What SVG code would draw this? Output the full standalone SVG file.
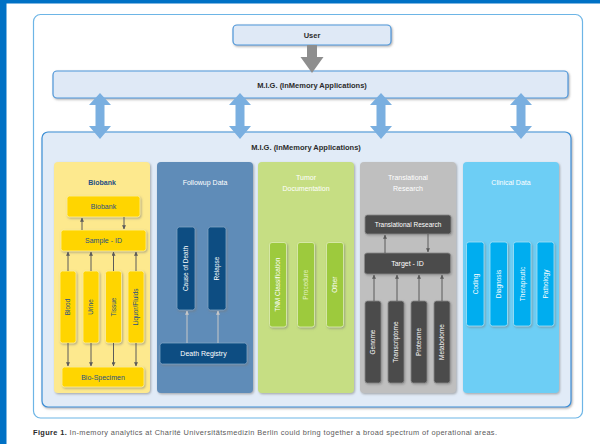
<svg xmlns="http://www.w3.org/2000/svg" width="600" height="444" viewBox="0 0 600 444">
<defs>
  <filter id="sh" x="-10%" y="-10%" width="130%" height="130%">
    <feDropShadow dx="1" dy="1.2" stdDeviation="0.8" flood-color="#7a7a7a" flood-opacity="0.6"/>
  </filter>
  <marker id="ah" viewBox="0 0 6 6" refX="5.5" refY="3" markerWidth="4" markerHeight="4" orient="auto-start-reverse">
    <path d="M0,0 L6,3 L0,6 z" fill="#5a5a5a"/>
  </marker>
  <marker id="ahl" viewBox="0 0 6 6" refX="5.5" refY="3" markerWidth="4" markerHeight="4" orient="auto-start-reverse">
    <path d="M0,0 L6,3 L0,6 z" fill="#c8c8c8"/>
  </marker>
</defs>
<style>
  text { font-family: "Liberation Sans", Arial, sans-serif; }
  .t { font-size: 7px; text-anchor: middle; }
  .tb { font-size: 7.5px; text-anchor: middle; fill: #2b2b2b; font-weight: bold; }
  .w { fill: #ffffff; }
  .db { fill: #1f4f85; }
  .v { font-size: 6.5px; text-anchor: middle; }
  .bar { fill: #dfe9f6; stroke: #4d97d9; stroke-width: 1.2; }
  .pnl { filter: url(#sh); }
  .yb { fill: #ffd500; stroke: #fff0a0; stroke-width: 0.8; filter: url(#sh); }
  .fb { fill: #0b4d82; stroke: #7fa3c6; stroke-width: 0.8; filter: url(#sh); }
  .gb { fill: #9dca3c; stroke: #e0efb8; stroke-width: 0.8; filter: url(#sh); }
  .kb { fill: #4b4b4b; stroke: #8a8a8a; stroke-width: 0.8; filter: url(#sh); }
  .cb { fill: #00adef; stroke: #a5e3fa; stroke-width: 0.8; filter: url(#sh); }
  .ln { stroke: #5a5a5a; stroke-width: 1; fill: none; }
  .ll { stroke: #c8c8c8; stroke-width: 1; fill: none; }
  .dbl { fill: #7aafe0; }
</style>

<!-- page frame -->
<rect x="0" y="0" width="600" height="444" fill="#ffffff"/>
<rect x="0" y="0" width="600" height="3.5" fill="#0071c5"/>
<rect x="0" y="0" width="6.5" height="444" fill="#0071c5"/>
<rect x="33.5" y="14.5" width="549" height="403.5" rx="7" fill="#ffffff" stroke="#6db5e6" stroke-width="1.2"/>

<g id="user">
  <rect class="bar" x="233" y="25" width="158" height="20" rx="4" filter="url(#sh)"/>
  <text class="tb" x="312" y="38">User</text>
</g>

<g id="mig-top">
  <rect class="bar" x="53" y="71" width="515" height="27" rx="4" filter="url(#sh)"/>
  <text class="tb" x="312" y="87.5">M.I.G. (InMemory Applications)</text>
</g>

<g id="mig-main">
  <rect x="42" y="132" width="529" height="275" rx="6" fill="#e1ebf7" stroke="#3a8fd6" stroke-width="1.2" filter="url(#sh)"/>
  <text class="tb" x="306" y="150">M.I.G. (InMemory Applications)</text>
</g>

<g id="connectors">
  <!-- user to mig -->
  <path d="M307,45 L317,45 L317,57 L323.5,57 L312,73 L300.5,57 L307,57 z" fill="#8e8e8e"/>
  <!-- double arrows -->
  <path class="dbl" d="M100,93 L111,105 L104.5,105 L104.5,126 L111,126 L100,139 L89,126 L95.5,126 L95.5,105 L89,105 z"/>
  <path class="dbl" d="M240,93 L251,105 L244.5,105 L244.5,126 L251,126 L240,139 L229,126 L235.5,126 L235.5,105 L229,105 z"/>
  <path class="dbl" d="M381,93 L392,105 L385.5,105 L385.5,126 L392,126 L381,139 L370,126 L376.5,126 L376.5,105 L370,105 z"/>
  <path class="dbl" d="M521,93 L532,105 L525.5,105 L525.5,126 L532,126 L521,139 L510,126 L516.5,126 L516.5,105 L510,105 z"/>
</g>

<!-- Biobank -->
<g id="biobank">
  <rect class="pnl" x="54" y="162" width="96" height="231" rx="4" fill="#fde98e"/>
  <text class="t db" x="102" y="184.5" font-weight="bold">Biobank</text>
  <rect class="yb" x="67" y="196" width="73" height="21" rx="2.5"/>
  <text class="t db" x="103.5" y="209">Biobank</text>
  <rect class="yb" x="61" y="230" width="85" height="21" rx="2.5"/>
  <text class="t db" x="103.5" y="243">Sample - ID</text>
  <rect class="yb" x="60" y="271" width="16" height="72" rx="2.5"/>
  <text class="v db" transform="translate(70.3,307) rotate(-90)">Blood</text>
  <rect class="yb" x="83" y="271" width="16" height="72" rx="2.5"/>
  <text class="v db" transform="translate(93.3,307) rotate(-90)">Urine</text>
  <rect class="yb" x="105.5" y="271" width="16" height="72" rx="2.5"/>
  <text class="v db" transform="translate(115.8,307) rotate(-90)">Tissue</text>
  <rect class="yb" x="128" y="271" width="16" height="72" rx="2.5"/>
  <text class="v db" transform="translate(138.3,307) rotate(-90)">Liquor/Fluids</text>
  <rect class="yb" x="62" y="367" width="82" height="20" rx="2.5"/>
  <text class="t db" x="103" y="379.5">Bio-Specimen</text>
</g>

<!-- Followup -->
<g id="followup">
  <rect class="pnl" x="157" y="162" width="96" height="231" rx="4" fill="#5e8cb8"/>
  <text class="t w" x="205" y="184.5">Followup Data</text>
  <rect class="fb" x="177" y="227" width="18" height="83" rx="2.5"/>
  <text class="v w" transform="translate(188.3,268.5) rotate(-90)">Cause of Death</text>
  <rect class="fb" x="208" y="227" width="18" height="83" rx="2.5"/>
  <text class="v w" transform="translate(219.3,268.5) rotate(-90)">Relapse</text>
  <rect class="fb" x="160" y="343" width="87" height="21" rx="2.5"/>
  <text class="t w" x="203.5" y="356">Death Registry</text>
</g>

<!-- Tumor -->
<g id="tumor">
  <rect class="pnl" x="258" y="162" width="96" height="231" rx="4" fill="#c6de83"/>
  <text class="t w" x="306" y="179.5">Tumor</text>
  <text class="t w" x="306" y="190.5">Documentation</text>
  <rect class="gb" x="269.5" y="242.5" width="17" height="84.5" rx="2.5"/>
  <text class="v w" transform="translate(280.3,284.7) rotate(-90)">TNM Classification</text>
  <rect class="gb" x="297.5" y="242.5" width="17" height="84.5" rx="2.5"/>
  <text class="v" fill="#e6f2c8" transform="translate(308.3,284.7) rotate(-90)">Procedure</text>
  <rect class="gb" x="326.5" y="242.5" width="17" height="84.5" rx="2.5"/>
  <text class="v w" transform="translate(337.3,284.7) rotate(-90)">Other</text>
</g>

<!-- Translational -->
<g id="translational">
  <rect class="pnl" x="360" y="162" width="96" height="231" rx="4" fill="#bfbfbf"/>
  <text class="t w" x="408" y="179.5">Translational</text>
  <text class="t w" x="408" y="190.5">Research</text>
  <rect class="kb" x="365" y="215" width="86" height="19" rx="2.5"/>
  <text class="v w" x="408" y="227">Translational Research</text>
  <rect class="kb" x="364.5" y="253" width="86" height="21" rx="2.5"/>
  <text class="t w" x="407.5" y="266">Target - ID</text>
  <rect class="kb" x="365" y="301" width="16" height="82" rx="2.5"/>
  <text class="v w" transform="translate(375.3,342) rotate(-90)">Genome</text>
  <rect class="kb" x="388" y="301" width="16" height="82" rx="2.5"/>
  <text class="v w" transform="translate(398.3,342) rotate(-90)">Transcriptome</text>
  <rect class="kb" x="411" y="301" width="16" height="82" rx="2.5"/>
  <text class="v w" transform="translate(421.3,342) rotate(-90)">Proteome</text>
  <rect class="kb" x="434" y="301" width="16" height="82" rx="2.5"/>
  <text class="v w" transform="translate(444.3,342) rotate(-90)">Metabolome</text>
</g>

<!-- Clinical -->
<g id="clinical">
  <rect class="pnl" x="463" y="162" width="96" height="231" rx="4" fill="#6dcef5"/>
  <text class="t w" x="511" y="184.5">Clinical Data</text>
  <rect class="cb" x="466.5" y="242" width="17.5" height="84" rx="2.5"/>
  <text class="v w" transform="translate(477.5,284) rotate(-90)">Coding</text>
  <rect class="cb" x="490" y="242" width="17.5" height="84" rx="2.5"/>
  <text class="v w" transform="translate(501,284) rotate(-90)">Diagnosis</text>
  <rect class="cb" x="513.5" y="242" width="17.5" height="84" rx="2.5"/>
  <text class="v w" transform="translate(524.5,284) rotate(-90)">Therapeutic</text>
  <rect class="cb" x="537" y="242" width="17" height="84" rx="2.5"/>
  <text class="v w" transform="translate(548,284) rotate(-90)">Pathology</text>
</g>

<g id="inner-connectors">
  <!-- biobank -->
  <line class="ln" x1="82" y1="230" x2="82" y2="218" marker-end="url(#ah)"/>
  <line class="ln" x1="124" y1="217" x2="124" y2="229" marker-end="url(#ah)"/>
  <line class="ln" x1="68" y1="271" x2="68" y2="252" marker-end="url(#ah)"/>
  <line class="ln" x1="91" y1="271" x2="91" y2="252" marker-end="url(#ah)"/>
  <line class="ln" x1="113.5" y1="271" x2="113.5" y2="252" marker-end="url(#ah)"/>
  <line class="ln" x1="136" y1="271" x2="136" y2="252" marker-end="url(#ah)"/>
  <line class="ln" x1="68" y1="343" x2="68" y2="366" marker-end="url(#ah)"/>
  <line class="ln" x1="91" y1="343" x2="91" y2="366" marker-end="url(#ah)"/>
  <line class="ln" x1="113.5" y1="343" x2="113.5" y2="366" marker-end="url(#ah)"/>
  <line class="ln" x1="136" y1="343" x2="136" y2="366" marker-end="url(#ah)"/>
  <!-- followup -->
  <line class="ll" x1="187" y1="343" x2="187" y2="311" marker-end="url(#ahl)"/>
  <line class="ll" x1="218" y1="343" x2="218" y2="311" marker-end="url(#ahl)"/>
  <!-- translational -->
  <line class="ln" x1="385" y1="253" x2="385" y2="235" marker-end="url(#ah)"/>
  <line class="ln" x1="428" y1="234" x2="428" y2="252" marker-end="url(#ah)"/>
  <line class="ln" x1="374" y1="301" x2="374" y2="275" marker-end="url(#ah)"/>
  <line class="ln" x1="397" y1="301" x2="397" y2="275" marker-end="url(#ah)"/>
  <line class="ln" x1="419" y1="301" x2="419" y2="275" marker-end="url(#ah)"/>
  <line class="ln" x1="442" y1="301" x2="442" y2="275" marker-end="url(#ah)"/>
</g>

<text x="33" y="435" font-size="7.4" fill="#5a5a5a" textLength="464" lengthAdjust="spacing"><tspan font-weight="bold" fill="#2b2b2b">Figure 1.</tspan> In-memory analytics at Charité Universitätsmedizin Berlin could bring together a broad spectrum of operational areas.</text>
</svg>
